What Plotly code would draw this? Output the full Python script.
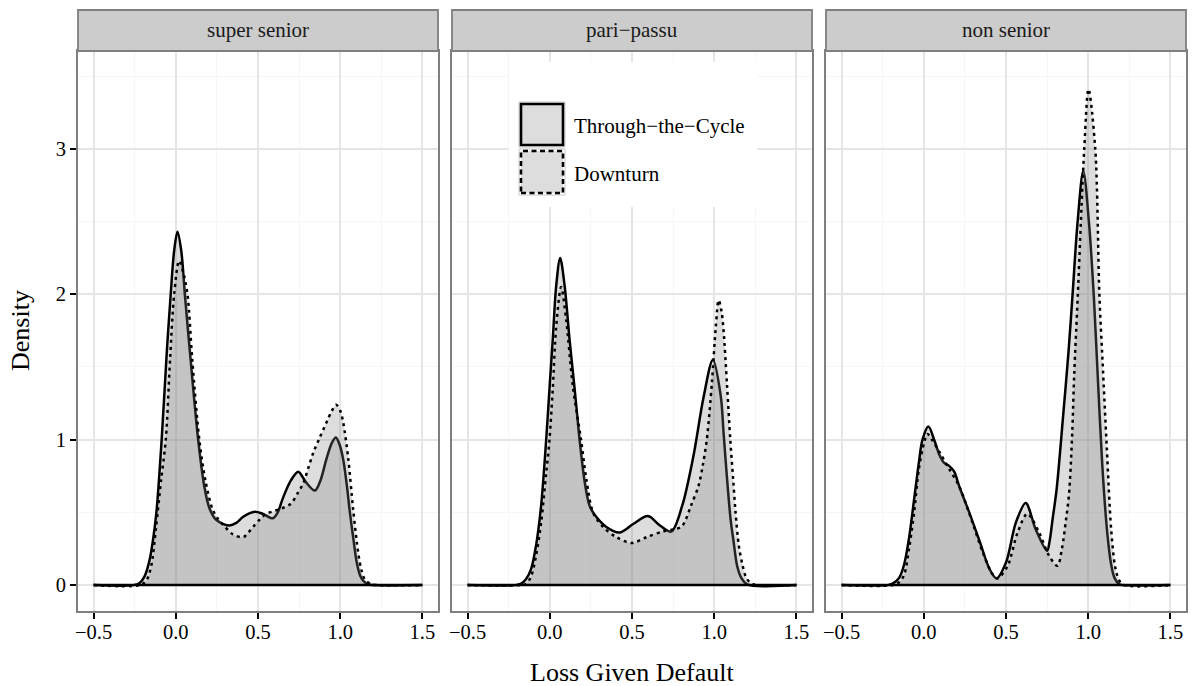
import plotly.graph_objects as go

# ---------------- data ----------------
panels = ["super senior", "pari\u2212passu", "non senior"]
series_names = ["Through\u2212the\u2212Cycle", "Downturn"]

x_ticks = [-0.5, 0.0, 0.5, 1.0, 1.5]
x_tick_labels = ["\u22120.5", "0.0", "0.5", "1.0", "1.5"]
y_ticks = [0, 1, 2, 3]
y_tick_labels = ["0", "1", "2", "3"]

# super senior
ss_ttc_x = [-0.5, -0.26, -0.22, -0.19, -0.16, -0.14, -0.118, -0.086, -0.055, -0.031, -0.01, 0.01, 0.033,
            0.055, 0.086, 0.136, 0.173, 0.204, 0.244, 0.29, 0.326, 0.37, 0.41, 0.48, 0.53, 0.59, 0.62, 0.652,
            0.7, 0.745, 0.79, 0.846, 0.88, 0.916, 0.95, 0.974, 0.995, 1.018, 1.04, 1.059, 1.08, 1.1, 1.12,
            1.14, 1.17, 1.2, 1.5]
ss_ttc_y = [0, 0, 0.015, 0.06, 0.17, 0.3, 0.5, 1.0, 1.6, 2.0, 2.3, 2.43, 2.3,
            2.0, 1.6, 1.0, 0.68, 0.53, 0.45, 0.42, 0.41, 0.43, 0.47, 0.505, 0.49, 0.46, 0.5, 0.6,
            0.72, 0.78, 0.71, 0.65, 0.72, 0.866, 0.98, 1.015, 0.97, 0.866, 0.69, 0.5, 0.32, 0.16, 0.07,
            0.03, 0.005, 0, 0]
ss_dt_x = [-0.5, -0.22, -0.18, -0.15, -0.12, -0.09, -0.061, -0.035, -0.01, 0.02, 0.045, 0.071, 0.1, 0.143,
           0.18, 0.224, 0.26, 0.3, 0.346, 0.41, 0.44, 0.47, 0.51, 0.55, 0.6, 0.65, 0.7, 0.74, 0.775, 0.81,
           0.836, 0.87, 0.917, 0.95, 0.975, 1.0, 1.018, 1.049, 1.079, 1.11, 1.13, 1.15, 1.19, 1.22, 1.5]
ss_dt_y = [0, 0, 0.03, 0.13, 0.4, 0.72, 1.0, 1.55, 2.0, 2.23, 2.15, 2.0, 1.55, 1.0,
           0.72, 0.52, 0.45, 0.4, 0.35, 0.33, 0.36, 0.4, 0.45, 0.49, 0.51, 0.53, 0.56, 0.63, 0.7, 0.82,
           0.91, 1.0, 1.12, 1.2, 1.24, 1.2, 1.12, 0.87, 0.52, 0.22, 0.1, 0.04, 0.005, 0, 0]

# pari-passu
pp_ttc_x = [-0.5, -0.21, -0.175, -0.145, -0.114, -0.084, -0.053, -0.022, -0.002, 0.018, 0.039, 0.063, 0.09,
            0.12, 0.151, 0.181, 0.212, 0.242, 0.275, 0.344, 0.424, 0.507, 0.597, 0.67, 0.739, 0.805, 0.874,
            0.935, 0.992, 1.04, 1.057, 1.077, 1.1, 1.118, 1.14, 1.165, 1.2, 1.5]
pp_ttc_y = [0, 0, 0.01, 0.04, 0.11, 0.27, 0.545, 1.0, 1.35, 1.69, 2.06, 2.25, 2.06,
            1.69, 1.35, 1.0, 0.71, 0.545, 0.48, 0.40, 0.362, 0.42, 0.475, 0.41, 0.368, 0.545, 0.89,
            1.29, 1.55, 1.3, 1.05, 0.75, 0.45, 0.3, 0.13, 0.05, 0.005, 0]
pp_dt_x = [-0.5, -0.18, -0.145, -0.114, -0.084, -0.053, -0.022, -0.002, 0.018, 0.039, 0.069, 0.1, 0.14,
           0.19, 0.222, 0.263, 0.324, 0.405, 0.497, 0.589, 0.69, 0.76, 0.8, 0.823, 0.86, 0.904, 0.93,
           0.955, 0.986, 1.01, 1.027, 1.045, 1.057, 1.078, 1.098, 1.116, 1.13, 1.15, 1.17, 1.195, 1.225,
           1.26, 1.5]
pp_dt_y = [0, 0, 0.007, 0.06, 0.2, 0.43, 0.77, 1.0, 1.35, 1.78, 2.05, 1.82, 1.37,
           1.0, 0.73, 0.5, 0.40, 0.33, 0.29, 0.33, 0.37, 0.385, 0.40, 0.44, 0.55, 0.68, 0.82,
           1.0, 1.39, 1.78, 1.96, 1.88, 1.75, 1.38, 1.0, 0.72, 0.5, 0.27, 0.15, 0.05, 0.012,
           0, 0]

# non senior
ns_ttc_x = [-0.5, -0.22, -0.19, -0.15, -0.12, -0.089, -0.06, -0.028, -0.008, 0.028, 0.063, 0.093, 0.124,
            0.154, 0.185, 0.215, 0.276, 0.34, 0.4, 0.442, 0.5, 0.56, 0.62, 0.68, 0.75, 0.765, 0.783, 0.808,
            0.848, 0.88, 0.905, 0.935, 0.97, 1.005, 1.035, 1.055, 1.086, 1.116, 1.14, 1.16, 1.19, 1.21, 1.5]
ns_ttc_y = [0, 0, 0.01, 0.05, 0.14, 0.33, 0.58, 0.86, 1.0, 1.09, 1.0, 0.9, 0.84,
            0.82, 0.78, 0.68, 0.5, 0.3, 0.11, 0.046, 0.156, 0.43, 0.564, 0.385, 0.236, 0.3, 0.45, 0.66,
            1.17, 1.6, 2.0, 2.49, 2.85, 2.49, 1.97, 1.51, 0.82, 0.36, 0.14, 0.05, 0.005, 0, 0]
ns_dt_x = [-0.5, -0.19, -0.15, -0.12, -0.09, -0.059, -0.03, 0.002, 0.022, 0.05, 0.103, 0.154, 0.215,
           0.296, 0.357, 0.418, 0.448, 0.509, 0.57, 0.63, 0.702, 0.763, 0.813, 0.84, 0.865, 0.883, 0.903,
           0.915, 0.937, 0.976, 1.002, 1.043, 1.068, 1.087, 1.113, 1.14, 1.165, 1.19, 1.22, 1.5]
ns_dt_y = [0, 0, 0.02, 0.07, 0.25, 0.5, 0.8, 0.98, 1.04, 1.0, 0.9, 0.8, 0.68,
           0.43, 0.23, 0.076, 0.046, 0.13, 0.36, 0.49, 0.36, 0.2, 0.133, 0.25, 0.45, 0.62, 1.05,
           1.45, 2.0, 3.0, 3.41, 3.0, 2.0, 1.55, 0.95, 0.38, 0.12, 0.03, 0, 0]

panel_data = [
    ((ss_ttc_x, ss_ttc_y), (ss_dt_x, ss_dt_y)),
    ((pp_ttc_x, pp_ttc_y), (pp_dt_x, pp_dt_y)),
    ((ns_ttc_x, ns_ttc_y), (ns_dt_x, ns_dt_y)),
]

# ---------------- layout geometry (pixels) ----------------
W, H = 1193, 686
ML, MR, MT, MB = 78, 7, 10, 75
PW = W - ML - MR
PH = H - MT - MB


def fx(px):
    return (px - ML) / PW


def fy(py):
    return (H - MB - py) / PH


panel_px = [(78, 438), (452, 812), (826, 1186)]
STRIP_BOT = 51
ydom = [0, fy(STRIP_BOT)]

FONT = "Liberation Serif, Times New Roman, serif"
FILL = "rgba(128,128,128,0.27)"
BORDER = "#7F7F7F"
LW = 2.5
DASH = "3px,4px"

fig = go.Figure()
layout = dict(
    width=W, height=H,
    margin=dict(l=ML, r=MR, t=MT, b=MB, autoexpand=False),
    paper_bgcolor="white", plot_bgcolor="white",
    showlegend=False, hovermode=False,
    font=dict(family=FONT, color="black"),
)
shapes = []
annotations = []

for i, (name, (ttc, dt)) in enumerate(zip(panels, panel_data)):
    sfx = "" if i == 0 else str(i + 1)
    xa, ya = "x" + sfx, "y" + sfx
    # densities
    fig.add_trace(go.Scatter(x=ttc[0], y=ttc[1], mode="lines", name=series_names[0],
                             line=dict(color="black", width=LW, shape="spline", smoothing=0.9),
                             fill="tozeroy", fillcolor=FILL, xaxis=xa, yaxis=ya))
    fig.add_trace(go.Scatter(x=dt[0], y=dt[1], mode="lines", name=series_names[1],
                             line=dict(color="black", width=LW, dash=DASH, shape="spline", smoothing=0.9),
                             fill="tozeroy", fillcolor=FILL, xaxis=xa, yaxis=ya))
    # baseline of the density outline
    xmin = min(min(ttc[0]), min(dt[0]))
    xmax = max(max(ttc[0]), max(dt[0]))
    fig.add_trace(go.Scatter(x=[xmin, xmax], y=[0, 0], mode="lines",
                             line=dict(color="black", width=LW), xaxis=xa, yaxis=ya))

    a, b = panel_px[i]
    xdom = [fx(a), fx(b)]
    layout["xaxis" + sfx] = dict(
        domain=xdom, anchor=ya, range=[-0.595, 1.595],
        tickmode="array", tickvals=x_ticks, ticktext=x_tick_labels,
        ticks="outside", ticklen=6, tickwidth=1.8, tickcolor="black",
        ticklabelstandoff=-5,
        tickfont=dict(family=FONT, size=20.5, color="black"),
        showline=True, mirror=True, linecolor=BORDER, linewidth=1.8,
        showgrid=True, gridcolor="#E5E5E5", gridwidth=1.6, zeroline=False,
        minor=dict(tickmode="array", tickvals=[-0.25, 0.25, 0.75, 1.25], showgrid=True,
                   gridcolor="#F6F6F6", gridwidth=1.2, ticks=""),
        fixedrange=True,
    )
    layout["yaxis" + sfx] = dict(
        domain=ydom, anchor=xa, range=[-0.178, 3.673],
        tickmode="array", tickvals=y_ticks, ticktext=y_tick_labels,
        ticks="outside" if i == 0 else "", ticklen=6, tickwidth=1.8, tickcolor="black",
        showticklabels=(i == 0),
        tickfont=dict(family=FONT, size=20.5, color="black"),
        showline=True, mirror=True, linecolor=BORDER, linewidth=1.8,
        showgrid=True, gridcolor="#E5E5E5", gridwidth=1.6, zeroline=False,
        minor=dict(tickmode="array", tickvals=[0.5, 1.5, 2.5, 3.5], showgrid=True,
                   gridcolor="#F6F6F6", gridwidth=1.2, ticks=""),
        fixedrange=True,
    )
    # strip
    shapes.append(dict(type="rect", xref="paper", yref="paper", x0=xdom[0], x1=xdom[1],
                       y0=ydom[1], y1=1, fillcolor="#CCCCCC", line=dict(color=BORDER, width=1.8),
                       layer="above"))
    annotations.append(dict(text=name, xref="paper", yref="paper", x=(xdom[0] + xdom[1]) / 2,
                            y=(ydom[1] + 1) / 2, xanchor="center", yanchor="middle", showarrow=False,
                            font=dict(family=FONT, size=21, color="#1A1A1A")))

# axis titles
annotations.append(dict(text="Loss Given Default", xref="paper", yref="paper", x=fx(632), y=fy(672),
                        xanchor="center", yanchor="middle", showarrow=False,
                        font=dict(family=FONT, size=26, color="black")))
annotations.append(dict(text="Density", xref="paper", yref="paper", x=fx(20), y=fy(331),
                        xanchor="center", yanchor="middle", showarrow=False, textangle=-90,
                        font=dict(family=FONT, size=26, color="black")))

# legend (inside the middle panel)
shapes.append(dict(type="rect", xref="paper", yref="paper", x0=fx(509), x1=fx(757), y0=fy(207), y1=fy(62),
                   fillcolor="white", line=dict(width=0), layer="above"))
key_rows = [(102, 147, "solid"), (149, 195, "5px,3.5px")]
for (top, bot, dash), label in zip(key_rows, series_names):
    shapes.append(dict(type="rect", xref="paper", yref="paper", x0=fx(519), x1=fx(565), y0=fy(bot), y1=fy(top),
                       fillcolor="white", line=dict(color="#CCCCCC", width=1), layer="above"))
    shapes.append(dict(type="rect", xref="paper", yref="paper", x0=fx(521), x1=fx(563),
                       y0=fy(bot - 2), y1=fy(top + 2),
                       fillcolor=FILL, line=dict(color="black", width=2.6, dash=dash), layer="above"))
    annotations.append(dict(text=label, xref="paper", yref="paper", x=fx(572), y=fy((top + bot) / 2 + 1.5),
                            xanchor="left", yanchor="middle", showarrow=False,
                            font=dict(family=FONT, size=21, color="black")))

layout["shapes"] = shapes
layout["annotations"] = annotations
fig.update_layout(**layout)

fig.write_html("out.html")
